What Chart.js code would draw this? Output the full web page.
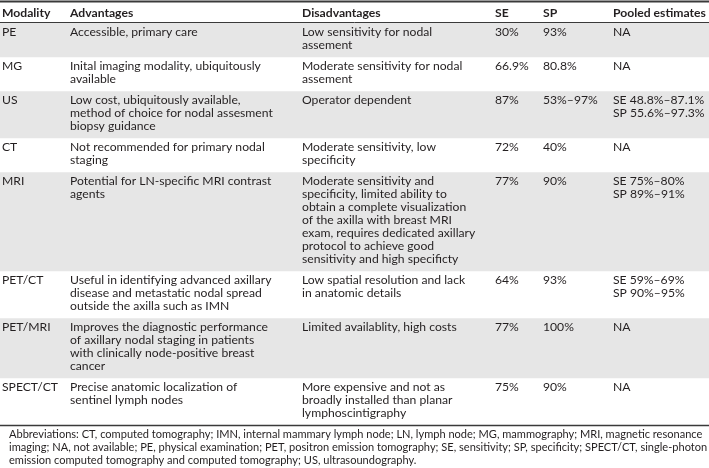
<!DOCTYPE html>
<html><head><meta charset="utf-8">
<script src="https://cdn.jsdelivr.net/npm/chart.js@4/dist/chart.umd.min.js"></script>
<style>html,body{margin:0;padding:0;background:#fff}#wrap{width:709px;height:468px;position:relative}</style>
</head><body><div id="wrap"><canvas id="c"></canvas></div>
<script>
// ---- data ----
const headers = ["Modality","Advantages","Disadvantages","SE","SP","Pooled estimates"];
const modality = ["PE","MG","US","CT","MRI","PET/CT","PET/MRI","SPECT/CT"];
const advantages = [
  ["Accessible, primary care"],
  ["Inital imaging modality, ubiquitously","available"],
  ["Low cost, ubiquitously available,","method of choice for nodal assesment","biopsy guidance"],
  ["Not recommended for primary nodal","staging"],
  ["Potential for LN-specific MRI contrast","agents"],
  ["Useful in identifying advanced axillary","disease and metastatic nodal spread","outside the axilla such as IMN"],
  ["Improves the diagnostic performance","of axillary nodal staging in patients","with clinically node-positive breast","cancer"],
  ["Precise anatomic localization of","sentinel lymph nodes"]
];
const disadvantages = [
  ["Low sensitivity for nodal","assement"],
  ["Moderate sensitivity for nodal","assement"],
  ["Operator dependent"],
  ["Moderate sensitivity, low","specificity"],
  ["Moderate sensitivity and","specificity, limited ability to","obtain a complete visualization","of the axilla with breast MRI","exam, requires dedicated axillary","protocol to achieve good","sensitivity and high specificty"],
  ["Low spatial resolution and lack","in anatomic details"],
  ["Limited availablity, high costs"],
  ["More expensive and not as","broadly installed than planar","lymphoscintigraphy"]
];
const se = ["30%","66.9%","87%","72%","77%","64%","77%","75%"];
const sp = ["93%","80.8%","53%–97%","40%","90%","93%","100%","90%"];
const pooled = [
  ["NA"],["NA"],["SE 48.8%–87.1%","SP 55.6%–97.3%"],["NA"],
  ["SE 75%–80%","SP 89%–91%"],["SE 59%–69%","SP 90%–95%"],["NA"],["NA"]
];
const abbreviations = [
  "Abbreviations: CT, computed tomography; IMN, internal mammary lymph node; LN, lymph node; MG, mammography; MRI, magnetic resonance",
  "imaging; NA, not available; PE, physical examination; PET, positron emission tomography; SE, sensitivity; SP, specificity; SPECT/CT, single-photon",
  "emission computed tomography and computed tomography; US, ultrasoundography."
];

// ---- layout constants ----
const W = 709, H = 468;
const COL_X = [2, 70, 302, 495, 543, 613];
const LINE_H = 13, PAD = 8, TOP = 2, HEADER_H = 21, TEXT_OFF = 9.5;
const FONT = 'Lato, "Open Sans", sans-serif';
const TEXT_COLOR = '#231f20', GRAY = '#e6e6e6', RULE = '#3a3a3a';

// row geometry derived from line counts
const rows = modality.map((m,i)=>({
  cells: [[m], advantages[i], disadvantages[i], [se[i]], [sp[i]], pooled[i]]
}));
let y0 = TOP + HEADER_H;
rows.forEach(r=>{
  const n = Math.max(...r.cells.map(c=>c.length));
  r.top = y0; r.bottom = y0 + n*LINE_H + PAD; y0 = r.bottom;
});
const tableBottom = y0;

// font sizes fitted to reference text widths
const mctx = document.createElement('canvas').getContext('2d');
mctx.font = '100px ' + FONT;
const bodySize = 100 * 203 / mctx.measureText("method of choice for nodal assesment").width;
const abbrSize = 100 * 699 / mctx.measureText(abbreviations[1]).width;

const tablePlugin = {
  id: 'tableText',
  afterDatasetsDraw(chart){
    const ctx = chart.ctx, ys = chart.scales.y, xs = chart.scales.x;
    const px = v => xs.left + (v / W) * (xs.right - xs.left);
    ctx.save();
    ctx.fillStyle = TEXT_COLOR;
    ctx.textBaseline = 'middle';
    ctx.textAlign = 'left';
    // header
    ctx.font = 'bold ' + bodySize.toFixed(2) + 'px ' + FONT;
    headers.forEach((h,j)=> ctx.fillText(h, px(COL_X[j]), ys.getPixelForValue(TOP + HEADER_H/2 + 0.5)));
    // body
    ctx.font = bodySize.toFixed(2) + 'px ' + FONT;
    rows.forEach(r=>{
      r.cells.forEach((lines,j)=>{
        lines.forEach((t,k)=> ctx.fillText(t, px(COL_X[j]), ys.getPixelForValue(r.top + TEXT_OFF + k*LINE_H)));
      });
    });
    // abbreviations
    ctx.font = abbrSize.toFixed(2) + 'px ' + FONT;
    abbreviations.forEach((t,k)=> ctx.fillText(t, px(9), ys.getPixelForValue(tableBottom + 9.5 + k*13)));
    // rules
    ctx.strokeStyle = RULE;
    const rule = (yv, lw)=>{ ctx.lineWidth = lw; ctx.beginPath();
      ctx.moveTo(px(0), ys.getPixelForValue(yv)); ctx.lineTo(px(W), ys.getPixelForValue(yv)); ctx.stroke(); };
    rule(TOP - 0.5, 2);
    rule(TOP + HEADER_H - 0.5, 1);
    rule(tableBottom + 0.5, 1.5);
    ctx.restore();
  }
};

new Chart(document.getElementById('c'), {
  type: 'bar',
  data: {
    labels: ['table'],
    datasets: rows.map((r,i)=>({
      data: [[r.top, r.bottom]],
      backgroundColor: i%2===0 ? GRAY : '#ffffff',
      borderWidth: 0,
      grouped: false,
      categoryPercentage: 1,
      barPercentage: 1
    }))
  },
  options: {
    responsive: true, maintainAspectRatio: false, animation: false,
    layout: { padding: 0 },
    plugins: { legend: { display: false }, tooltip: { enabled: false } },
    scales: {
      x: { display: false, offset: true },
      y: { min: 0, max: H, reverse: true, display: false }
    }
  },
  plugins: [tablePlugin]
});
</script></body></html>
